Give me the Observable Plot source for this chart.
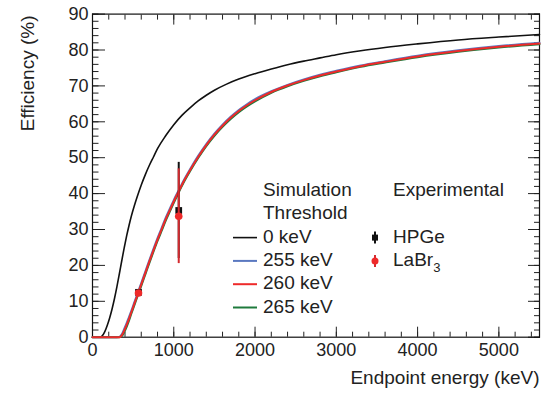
<!DOCTYPE html>
<html><head><meta charset="utf-8">
<script src="https://cdn.jsdelivr.net/npm/d3@7"></script>
<script src="https://cdn.jsdelivr.net/npm/@observablehq/plot@0.6"></script>
<style>
body{margin:0;background:#fff;}
#wrap{position:relative;width:547px;height:394px;}
</style></head><body><div id="wrap"></div>
<script>
// ---- Data ----
const energy0 = [0,100,120,150,180,210,240,270,300,330,360,390,420,450,480,512,550,600,650,700,750,800,900,1000,1100,1200,1300,1400,1500,1650,1800,2000,2200,2400,2600,2800,3000,3300,3600,4000,4500,5000,5500];
const eff0keV = [0,0,0.4,1.5,3.2,5.3,7.8,10.7,14.0,17.6,21.3,24.9,28.2,31.2,33.9,36.4,39.1,42.4,45.3,47.9,50.2,52.5,56.1,59.2,61.8,63.9,65.8,67.4,68.8,70.5,71.9,73.4,74.7,75.9,76.9,77.8,78.7,79.8,80.7,81.7,82.8,83.6,84.3];

const energyT = [0,300,330,360,390,420,450,480,510,540,570,600,650,700,750,800,850,900,950,1000,1060,1120,1200,1300,1400,1500,1600,1700,1800,1900,2000,2200,2400,2600,2800,3000,3300,3600,4000,4500,5000,5500];
const eff255keV = [0,0,0.1,0.8,2.3,3.9,5.7,7.5,9.4,11.3,13.2,15.1,18.3,21.5,24.6,27.6,30.4,33.2,35.7,38.2,40.9,43.6,46.8,50.5,53.8,56.7,59.2,61.4,63.3,64.9,66.3,68.5,70.3,71.8,73.1,74.2,75.7,76.9,78.4,79.9,81.1,82.0];
const eff260keV = [0,0,0,0.5,1.8,3.4,5.2,7.1,9.0,10.9,12.8,14.7,17.9,21.1,24.2,27.2,30.0,32.8,35.3,37.8,40.6,43.3,46.5,50.2,53.5,56.4,58.9,61.1,63.0,64.6,66.0,68.3,70.1,71.6,72.9,74.0,75.5,76.7,78.2,79.7,80.9,81.8];
const eff265keV = [0,0,0,0.3,1.4,2.9,4.7,6.7,8.6,10.5,12.4,14.3,17.5,20.7,23.8,26.8,29.6,32.4,34.9,37.4,40.3,43.0,46.2,49.9,53.2,56.1,58.6,60.8,62.7,64.3,65.7,68.1,69.9,71.4,72.7,73.8,75.3,76.5,78.0,79.5,80.7,81.6];

const expEnergy = [566, 1061];
const hpgeEff = [12.5, 35.3];
const hpgeErr = [0.6, 13.4];
const labrEff = [12.3, 33.7];
const labrErr = [0.6, 13.2];

const simLabels = ["0 keV", "255 keV", "260 keV", "265 keV"];
const simColors = ["#111111", "#5a78c0", "#ee2a2a", "#1f7a3c"];
const xMajorTicks = [0, 1000, 2000, 3000, 4000, 5000];
const yMajorTicks = [0, 10, 20, 30, 40, 50, 60, 70, 80, 90];

// ---- Build tables ----
const rows0 = energy0.map((e, i) => ({e, v: eff0keV[i]}));
const mk = arr => energyT.map((e, i) => ({e, v: arr[i]}));
const rows255 = mk(eff255keV), rows260 = mk(eff260keV), rows265 = mk(eff265keV);
const hpge = expEnergy.map((e, i) => ({e, v: hpgeEff[i], err: hpgeErr[i]}));
const labr = expEnergy.map((e, i) => ({e, v: labrEff[i], err: labrErr[i]}));

const xMinor = d3.range(0, 5501, 200);
const yMinor = d3.range(0, 91, 2);
const FONT = "'Liberation Sans', Arial, Helvetica, sans-serif";
const blank = () => "";
const plain = d => String(d);

const chart = Plot.plot({
  width: 547, height: 394,
  marginLeft: 92, marginRight: 8, marginTop: 13.6, marginBottom: 57.3,
  style: {fontFamily: FONT, background: "white", color: "#222", fontSize: "18px"},
  x: {domain: [0, 5500]},
  y: {domain: [0, 90]},
  marks: [
    Plot.axisY({anchor: "left", ticks: yMinor, tickSize: -6.5, tickFormat: blank, label: null, stroke: "#222"}),
    Plot.axisY({anchor: "left", ticks: yMajorTicks, tickSize: -13, tickPadding: 17, tickFormat: plain, label: null, fontSize: 18, stroke: "#222", fill: "#222"}),
    Plot.axisY({anchor: "right", ticks: yMinor, tickSize: -6, tickFormat: blank, label: null, stroke: "#222"}),
    Plot.axisY({anchor: "right", ticks: yMajorTicks, tickSize: -12, tickFormat: blank, label: null, stroke: "#222"}),
    Plot.axisX({anchor: "bottom", ticks: xMinor, tickSize: -5, tickFormat: blank, label: null, stroke: "#222"}),
    Plot.axisX({anchor: "bottom", ticks: xMajorTicks, tickSize: -10, tickPadding: 16, tickFormat: plain, label: null, fontSize: 18, stroke: "#222", fill: "#222"}),
    Plot.axisX({anchor: "top", ticks: xMinor, tickSize: -5, tickFormat: blank, label: null, stroke: "#222"}),
    Plot.axisX({anchor: "top", ticks: xMajorTicks, tickSize: -10, tickFormat: blank, label: null, stroke: "#222"}),
    Plot.frame({stroke: "#111", strokeWidth: 1.2}),
    Plot.line(rows0, {x: "e", y: "v", stroke: simColors[0], strokeWidth: 1.6, curve: "monotone-x"}),
    Plot.line(rows255, {x: "e", y: "v", stroke: simColors[1], strokeWidth: 2, curve: "monotone-x"}),
    Plot.line(rows265, {x: "e", y: "v", stroke: simColors[3], strokeWidth: 2, curve: "monotone-x"}),
    Plot.line(rows260, {x: "e", y: "v", stroke: simColors[2], strokeWidth: 2, curve: "monotone-x"}),
    Plot.ruleX(hpge, {x: "e", y1: d => d.v - d.err, y2: d => d.v + d.err, stroke: "#111", strokeWidth: 2}),
    Plot.dot(hpge, {x: "e", y: "v", symbol: "square", r: 3.8, fill: "#111", stroke: "none"}),
    Plot.ruleX(labr, {x: "e", y1: d => d.v - d.err, y2: d => d.v + d.err, stroke: "#d42a2f", strokeWidth: 2}),
    Plot.dot(labr, {x: "e", y: "v", r: 3.8, fill: "#ee2a2a", stroke: "none"}),
    Plot.text(["Endpoint energy (keV)"], {frameAnchor: "bottom-right", textAnchor: "end", lineAnchor: "middle", dy: 41.2, fontSize: 19, fill: "#222"}),
    Plot.text(["Efficiency (%)"], {frameAnchor: "top-left", rotate: -90, textAnchor: "end", lineAnchor: "middle", dx: -65, dy: 1.4, fontSize: 19, fill: "#222"})
  ]
});
const wrap = document.getElementById("wrap");
wrap.appendChild(chart);

// ---- Legend overlay ----
const leg = d3.select(wrap).append("svg")
  .attr("width", 547).attr("height", 394)
  .style("position", "absolute").style("left", "0px").style("top", "0px")
  .style("font-family", FONT).style("font-size", "19px").style("fill", "#222");
const step = 23.3, base = 196;
leg.append("text").attr("x", 263).attr("y", base).text("Simulation");
leg.append("text").attr("x", 263).attr("y", base + step).text("Threshold");
leg.append("text").attr("x", 393).attr("y", base).text("Experimental");
simLabels.forEach((lab, i) => {
  const y = base + step * (i + 2);
  leg.append("line").attr("x1", 233).attr("x2", 257).attr("y1", y - 5).attr("y2", y - 5)
    .attr("stroke", simColors[i]).attr("stroke-width", i === 0 ? 1.6 : 2);
  leg.append("text").attr("x", 263).attr("y", y).text(lab);
});
{
  const y = base + step * 2;
  leg.append("line").attr("x1", 375).attr("x2", 375).attr("y1", y - 11).attr("y2", y + 1).attr("stroke", "#111").attr("stroke-width", 2);
  leg.append("rect").attr("x", 372).attr("y", y - 8).attr("width", 6).attr("height", 6).attr("fill", "#111");
  leg.append("text").attr("x", 393).attr("y", y).text("HPGe");
}
{
  const y = base + step * 3;
  leg.append("line").attr("x1", 375).attr("x2", 375).attr("y1", y - 11).attr("y2", y + 1).attr("stroke", "#d42a2f").attr("stroke-width", 2);
  leg.append("circle").attr("cx", 375).attr("cy", y - 5).attr("r", 3.5).attr("fill", "#ee2a2a");
  const t = leg.append("text").attr("x", 393).attr("y", y);
  t.append("tspan").text("LaBr");
  t.append("tspan").attr("dy", 6).attr("font-size", "13px").text("3");
}
</script>
</body></html>
